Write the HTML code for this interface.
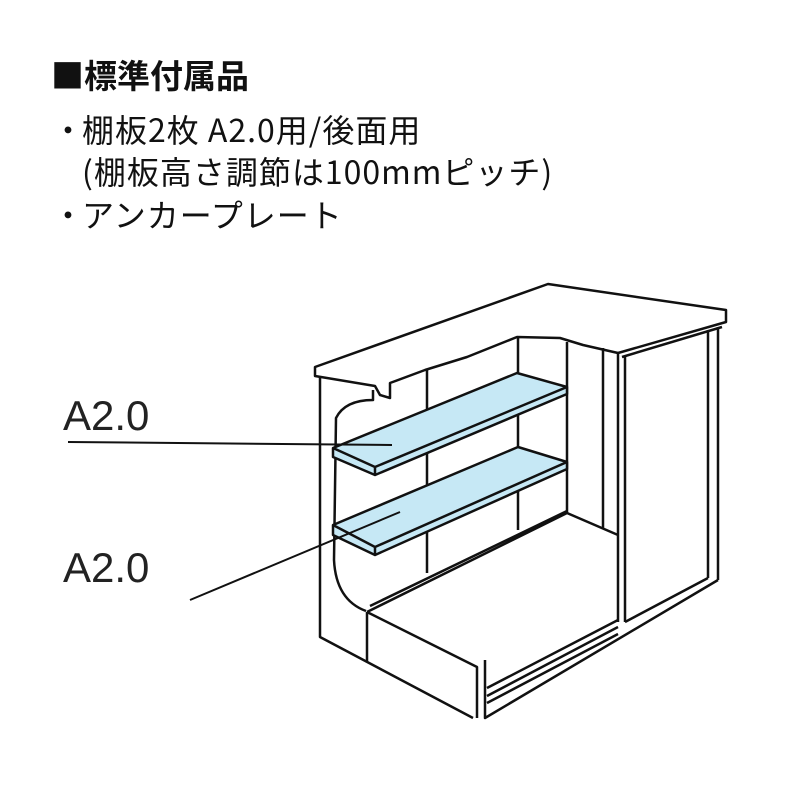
<!DOCTYPE html><html><head><meta charset="utf-8"><style>
body{margin:0;width:800px;height:800px;background:#fff;position:relative;overflow:hidden;font-family:"Noto Sans CJK JP","Liberation Sans",sans-serif;color:#111}
.t{position:absolute;white-space:nowrap;font-size:32px;line-height:1;letter-spacing:1px}
</style></head><body>
<div class="t" style="left:51px;top:58px;font-weight:bold;font-size:33px;letter-spacing:0">■標準付属品</div>
<div class="t" style="left:52px;top:113px">・</div>
<div class="t" style="left:82px;top:113px">棚板2枚 A2.0用/後面用</div>
<div class="t" style="left:82px;top:155px">(棚板高さ調節は100mmピッチ)</div>
<div class="t" style="left:52px;top:198px">・</div>
<div class="t" style="left:82px;top:198px">アンカープレート</div>
<svg width="800" height="800" style="position:absolute;left:0;top:0" fill="none" stroke="#111" stroke-width="2.5" stroke-linejoin="round">
<text x="63" y="430" font-size="42" fill="#222" stroke="none" font-family="Liberation Sans">A2.0</text>
<text x="63" y="582" font-size="42" fill="#222" stroke="none" font-family="Liberation Sans">A2.0</text>
<path d="M315,367 L548,284 L726,310 L726,322 L618,353 L583,345 L560,338 L517,337 L467,357 L425,370 L390,383 L390,398 L380,395 L375,386 L315,376 Z" fill="#fff"/>
<path d="M622,357 L722,327"/>
<path d="M320,376 L320,637 L473,718"/>
<path d="M373,390 L373,400 Q345,400 336,418 L334,560 Q336,600 366,611"/>
<path d="M367,612 L477,667 L477,718 M367,612 L367,662 M485,660 L485,718 L718,580 M367,612 L567,513 L618,535 M370,606 L567,511"/>
<path d="M487,688 L618,620 M487,696 L618,627 M487,703 L618,634"/>
<path d="M427,370 L427,573 M518,337 L518,530 M567,342 L567,513 M603,348 L603,528 M618,353 L618,622 M625,356 L625,622"/>
<path d="M708,330 L708,578 M718,327 L718,580 M625,622 L708,578"/>
<path d="M333,448 L517,373 L567,387 L567,394 L375,475 L333,457 Z" fill="#c6e8f5"/>
<path d="M333,448 L375,467 L567,387 M375,467 L375,475"/>
<path d="M333,525 L518,447 L567,462 L567,469 L375,555 L333,535 Z" fill="#c6e8f5"/>
<path d="M333,525 L375,547 L567,462 M375,547 L375,555"/>
<path d="M68,442 L392,445 M190,600 L400,512" stroke-width="2"/>
</svg>
</body></html>
